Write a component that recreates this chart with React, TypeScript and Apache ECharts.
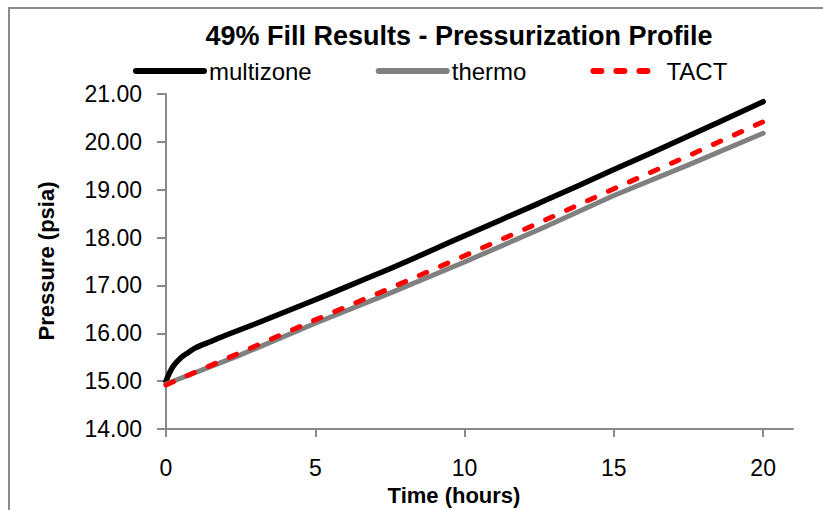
import React, { useEffect, useRef } from "react";
import * as echarts from "echarts";

const titleText = "49% Fill Results - Pressurization Profile";
const xAxisTitle = "Time (hours)";
const yAxisTitle = "Pressure (psia)";
const seriesNames = ["multizone", "thermo", "TACT"];

const xTickValues = [0, 5, 10, 15, 20];

const timeFine = [0, 0.1, 0.25, 0.5, 0.75, 1, 1.5, 2, 3, 4, 5, 6, 7.5, 9, 10, 12.5, 15, 17.5, 20];
const multizone = [15.0, 15.15, 15.32, 15.49, 15.6, 15.7, 15.83, 15.96, 16.2, 16.45, 16.7, 16.96, 17.35, 17.76, 18.04, 18.72, 19.42, 20.12, 20.84];

const timeCoarse = [0, 2.5, 5, 7.5, 10, 12.5, 15, 17.5, 20];
const thermo = [14.94, 15.55, 16.21, 16.84, 17.49, 18.17, 18.88, 19.52, 20.18];
const tact = [14.92, 15.6, 16.28, 16.94, 17.62, 18.31, 19.02, 19.71, 20.42];

const FONT = "'Liberation Sans', Arial, sans-serif";
const AXIS_GRAY = "#898989";

function pair(xs: number[], ys: number[]) {
  return xs.map((x, i) => [x, ys[i]]);
}

export default function App() {
  const ref = useRef<HTMLDivElement>(null);
  useEffect(() => {
    if (!ref.current) return;
    const chart = echarts.init(ref.current, null, { renderer: "svg" });
    chart.setOption({
      animation: false,
      backgroundColor: "#ffffff",
      textStyle: { fontFamily: FONT },
      title: {
        text: titleText,
        left: 454,
        textAlign: "center",
        top: 17,
        textStyle: { fontFamily: FONT, fontSize: 27, fontWeight: "bold", color: "#000" },
      },
      legend: {
        data: seriesNames,
        left: 128,
        top: 54,
        itemWidth: 68,
        itemHeight: 14,
        itemGap: 64,
        textStyle: { fontFamily: FONT, fontSize: 24, color: "#000" },
        lineStyle: { width: 6, cap: "round" },
        itemStyle: { opacity: 0 },
      },
      grid: {
        left: 166,
        top: 94,
        right: 30,
        bottom: 81,
        containLabel: false,
        outerBoundsMode: "none",
      },
      xAxis: {
        type: "value",
        min: 0,
        max: 21,
        interval: 5,
        axisLine: { show: true, onZero: false, lineStyle: { color: AXIS_GRAY, width: 2 } },
        axisTick: { show: true, length: 8, customValues: xTickValues, lineStyle: { color: AXIS_GRAY, width: 2 } },
        axisLabel: {
          customValues: xTickValues,
          margin: 27,
          fontFamily: FONT,
          fontSize: 23,
          lineHeight: 24,
          color: "#000",
          formatter: (v: number) => (xTickValues.indexOf(v) >= 0 ? String(v) : ""),
        },
        splitLine: { show: false },
      },
      yAxis: {
        type: "value",
        min: 14,
        max: 21,
        interval: 1,
        axisLine: { show: true, lineStyle: { color: AXIS_GRAY, width: 2 } },
        axisTick: { show: true, length: 9, lineStyle: { color: AXIS_GRAY, width: 2 } },
        axisLabel: {
          margin: 24,
          fontFamily: FONT,
          fontSize: 23,
          color: "#000",
          formatter: (v: number) => v.toFixed(2),
        },
        splitLine: { show: false },
      },
      graphic: [
        {
          type: "rect",
          shape: { x: 9, y: 8, width: 900, height: 700 },
          style: { fill: "none", stroke: "#8c8c8c", lineWidth: 2 },
          silent: true,
        },
        {
          type: "text",
          x: 454,
          y: 495,
          style: {
            text: xAxisTitle,
            font: `bold 22px ${FONT}`,
            fill: "#000",
            align: "center",
            verticalAlign: "middle",
          },
        },
        {
          type: "text",
          x: 46,
          y: 261,
          rotation: Math.PI / 2,
          style: {
            text: yAxisTitle,
            font: `bold 22px ${FONT}`,
            fill: "#000",
            align: "center",
            verticalAlign: "middle",
          },
        },
      ],
      series: [
        {
          name: seriesNames[0],
          type: "line",
          data: pair(timeFine, multizone),
          smooth: 0.3,
          symbol: "none",
          showSymbol: false,
          lineStyle: { color: "#000000", width: 5.5, cap: "round" },
          itemStyle: { color: "#000000" },
        },
        {
          name: seriesNames[1],
          type: "line",
          data: pair(timeCoarse, thermo),
          symbol: "none",
          showSymbol: false,
          lineStyle: { color: "#808080", width: 5, cap: "round" },
          itemStyle: { color: "#808080" },
        },
        {
          name: seriesNames[2],
          type: "line",
          data: pair(timeCoarse, tact),
          symbol: "none",
          showSymbol: false,
          lineStyle: { color: "#ff0000", width: 5, type: [8, 15], cap: "round" },
          itemStyle: { color: "#ff0000" },
        },
      ],
    });
    return () => chart.dispose();
  }, []);
  return (
    <div
      ref={ref}
      style={{ position: "fixed", left: 0, top: 0, width: 823, height: 510 }}
    />
  );
}
